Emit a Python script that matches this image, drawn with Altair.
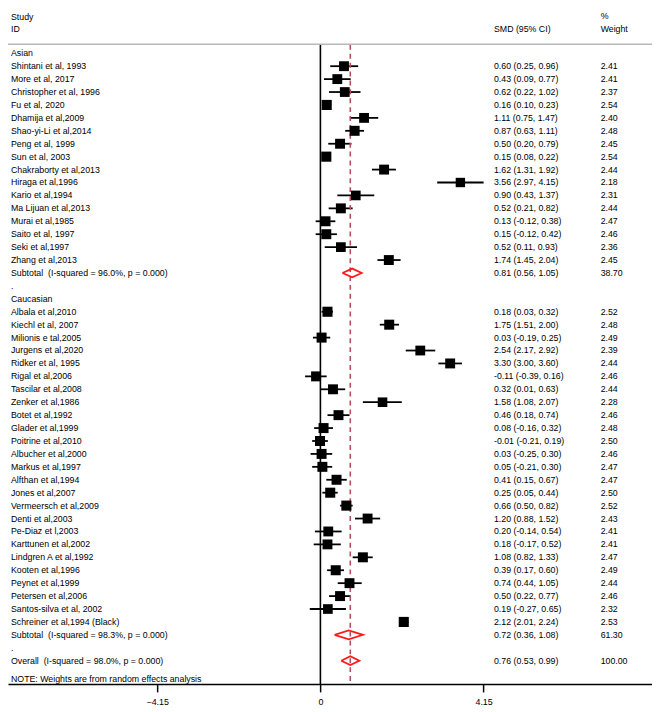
import altair as alt
import pandas as pd

# ---------------- data ----------------
asian_studies = ["Shintani et al, 1993", "More et al, 2017", "Christopher et al, 1996", "Fu et al, 2020",
                 "Dhamija et al,2009", "Shao-yi-Li et al,2014", "Peng et al, 1999", "Sun et al, 2003",
                 "Chakraborty et al,2013", "Hiraga et al,1996", "Kario et al,1994", "Ma Lijuan et al,2013",
                 "Murai et al,1985", "Saito et al, 1997", "Seki et al,1997", "Zhang et al,2013"]
asian_smd = [0.60, 0.43, 0.62, 0.16, 1.11, 0.87, 0.50, 0.15, 1.62, 3.56, 0.90, 0.52, 0.13, 0.15, 0.52, 1.74]
asian_lo = [0.25, 0.09, 0.22, 0.10, 0.75, 0.63, 0.20, 0.08, 1.31, 2.97, 0.43, 0.21, -0.12, -0.12, 0.11, 1.45]
asian_hi = [0.96, 0.77, 1.02, 0.23, 1.47, 1.11, 0.79, 0.22, 1.92, 4.15, 1.37, 0.82, 0.38, 0.42, 0.93, 2.04]
asian_w = [2.41, 2.41, 2.37, 2.54, 2.40, 2.48, 2.45, 2.54, 2.44, 2.18, 2.31, 2.44, 2.47, 2.46, 2.36, 2.45]

cauc_studies = ["Albala et al,2010", "Kiechl et al, 2007", "Milionis e tal,2005", "Jurgens et al,2020",
                "Ridker et al, 1995", "Rigal et al,2006", "Tascilar et al,2008", "Zenker et al,1986",
                "Botet et al,1992", "Glader et al,1999", "Poitrine et al,2010", "Albucher et al,2000",
                "Markus et al,1997", "Alfthan et al,1994", "Jones et al,2007", "Vermeersch et al,2009",
                "Denti et al,2003", "Pe-Diaz et l,2003", "Karttunen et al,2002", "Lindgren A et al,1992",
                "Kooten et al,1996", "Peynet et al,1999", "Petersen et al,2006", "Santos-silva et al, 2002",
                "Schreiner et al,1994 (Black)"]
cauc_smd = [0.18, 1.75, 0.03, 2.54, 3.30, -0.11, 0.32, 1.58, 0.46, 0.08, -0.01, 0.03, 0.05, 0.41, 0.25,
            0.66, 1.20, 0.20, 0.18, 1.08, 0.39, 0.74, 0.50, 0.19, 2.12]
cauc_lo = [0.03, 1.51, -0.19, 2.17, 3.00, -0.39, 0.01, 1.08, 0.18, -0.16, -0.21, -0.25, -0.21, 0.15, 0.05,
           0.50, 0.88, -0.14, -0.17, 0.82, 0.17, 0.44, 0.22, -0.27, 2.01]
cauc_hi = [0.32, 2.00, 0.25, 2.92, 3.60, 0.16, 0.63, 2.07, 0.74, 0.32, 0.19, 0.30, 0.30, 0.67, 0.44,
           0.82, 1.52, 0.54, 0.52, 1.33, 0.60, 1.05, 0.77, 0.65, 2.24]
cauc_w = [2.52, 2.48, 2.49, 2.39, 2.44, 2.46, 2.44, 2.28, 2.46, 2.48, 2.50, 2.46, 2.47, 2.47, 2.50,
          2.52, 2.43, 2.41, 2.41, 2.47, 2.49, 2.44, 2.46, 2.32, 2.53]

pooled_labels = ["Subtotal\u00a0 (I-squared = 96.0%, p = 0.000)",
                 "Subtotal\u00a0 (I-squared = 98.3%, p = 0.000)",
                 "Overall\u00a0 (I-squared = 98.0%, p = 0.000)"]
pooled_smd = [0.81, 0.72, 0.76]
pooled_lo = [0.56, 0.36, 0.53]
pooled_hi = [1.05, 1.08, 0.99]
pooled_w = [38.70, 61.30, 100.00]

group_labels = ["Asian", "Caucasian"]
tick_values = [-4.15, 0, 4.15]
note_text = "NOTE: Weights are from random effects analysis"


def ci_text(m, l, h):
    return f"{m:.2f} ({l:.2f}, {h:.2f})"


# ---------------- build tables ----------------
text_rows, study_rows, pooled_rows = [], [], []
r = 0
groups = [(asian_studies, asian_smd, asian_lo, asian_hi, asian_w),
          (cauc_studies, cauc_smd, cauc_lo, cauc_hi, cauc_w)]
for gi, (names, sm, lo, hi, w) in enumerate(groups):
    text_rows.append(dict(row=r, label=group_labels[gi], ci="", wt=""))
    r += 1
    for n, m, l, h, ww in zip(names, sm, lo, hi, w):
        text_rows.append(dict(row=r, label=n, ci=ci_text(m, l, h), wt=f"{ww:.2f}"))
        study_rows.append(dict(row=r, smd=m, lo=l, hi=h, w=ww))
        r += 1
    text_rows.append(dict(row=r, label=pooled_labels[gi],
                          ci=ci_text(pooled_smd[gi], pooled_lo[gi], pooled_hi[gi]),
                          wt=f"{pooled_w[gi]:.2f}"))
    pooled_rows.append(dict(row=r, smd=pooled_smd[gi], lo=pooled_lo[gi], hi=pooled_hi[gi], key=gi))
    r += 1
    text_rows.append(dict(row=r, label=".", ci="", wt=""))
    r += 1
text_rows.append(dict(row=r, label=pooled_labels[2],
                      ci=ci_text(pooled_smd[2], pooled_lo[2], pooled_hi[2]),
                      wt=f"{pooled_w[2]:.2f}"))
pooled_rows.append(dict(row=r, smd=pooled_smd[2], lo=pooled_lo[2], hi=pooled_hi[2], key=2))

text_df = pd.DataFrame(text_rows)
study_df = pd.DataFrame(study_rows)

half_h = 0.34  # diamond half height in row units
diam = []
for p in pooled_rows:
    pts = [(p["lo"], p["row"]), (p["smd"], p["row"] - half_h), (p["hi"], p["row"]),
           (p["smd"], p["row"] + half_h), (p["lo"], p["row"])]
    for i, (xx, yy) in enumerate(pts):
        diam.append(dict(key=p["key"], o=i, x=xx, y=yy))
diam_df = pd.DataFrame(diam)

overall_df = pd.DataFrame({"smd": [pooled_smd[2]]})
zero_df = pd.DataFrame({"v": [0]})

# ---------------- scales ----------------
W, H = 652, 680
FONT = "Liberation Sans"
FS = 8.9
xscale = alt.Scale(domain=[-7.945, 8.433], nice=False, zero=False)
yscale = alt.Scale(domain=[-3.168, 48.80], reverse=True, nice=False, zero=False)

xaxis = alt.Axis(values=tick_values, title=None, grid=False,
                 labelExpr="datum.value == 0 ? '0' : format(datum.value, '.2f')",
                 domainColor="#000", domainWidth=1.5, tickColor="#000", tickWidth=1.5,
                 tickSize=8, labelFontSize=9, labelPadding=6, labelFont=FONT,
                 labelColor="#000", labelFlush=False)

base_study = alt.Chart(study_df)

ci = base_study.mark_rule(color="#000", strokeWidth=1.8).encode(
    x=alt.X("lo:Q", scale=xscale, axis=xaxis),
    x2="hi:Q",
    y=alt.Y("row:Q", scale=yscale, axis=None),
)

overall_line = alt.Chart(overall_df).mark_rule(color="#b4505c", strokeWidth=1.6,
                                               strokeDash=[5, 4]).encode(
    x=alt.X("smd:Q", scale=xscale),
    y=alt.value(33),
    y2=alt.value(H),
)

zero_line = alt.Chart(zero_df).mark_rule(color="#000", strokeWidth=1.6).encode(
    x=alt.X("v:Q", scale=xscale),
    y=alt.value(33),
    y2=alt.value(H),
)

squares = base_study.mark_square(filled=True, color="#000", opacity=1).encode(
    x=alt.X("smd:Q", scale=xscale),
    y=alt.Y("row:Q", scale=yscale),
    size=alt.Size("w:Q", scale=alt.Scale(domain=[0, 2.54], range=[0, 105]), legend=None),
)

diamonds = alt.Chart(diam_df).mark_line(color="#ff1a1a", strokeWidth=1.8, strokeJoin="miter").encode(
    x=alt.X("x:Q", scale=xscale),
    y=alt.Y("y:Q", scale=yscale),
    detail="key:N",
    order="o:Q",
)

header_line = alt.Chart(zero_df).mark_rule(color="#b8b8b8", strokeWidth=1.5).encode(
    x=alt.value(0), x2=alt.value(W), y=alt.value(32.3),
)

txt_kw = dict(font=FONT, fontSize=FS, color="#000", align="left", baseline="middle")
base_text = alt.Chart(text_df)
labels = base_text.mark_text(**txt_kw).encode(
    x=alt.value(3), y=alt.Y("row:Q", scale=yscale), text="label:N")
cis = base_text.mark_text(**txt_kw).encode(
    x=alt.value(492), y=alt.Y("row:Q", scale=yscale), text="ci:N")
wts = base_text.mark_text(**txt_kw).encode(
    x=alt.value(600), y=alt.Y("row:Q", scale=yscale), text="wt:N")


def head(t, x, y):
    return alt.Chart(zero_df).mark_text(text=t, **txt_kw).encode(x=alt.value(x), y=alt.value(y))


headers = [head("Study", 3, 4.9), head("ID", 3, 16.8), head("SMD (95% CI)", 492, 16.8),
           head("%", 600, 3.9), head("Weight", 600, 16.8), head(note_text, 3, 675.1)]

chart = alt.layer(
    header_line, ci, overall_line, zero_line, squares, diamonds, labels, cis, wts, *headers
).properties(
    width=W, height=H,
    padding={"left": 0, "top": 0, "right": 0, "bottom": 24},
    autosize=alt.AutoSizeParams(type="none")
).configure_view(stroke=None)

chart.save("out.html", embed_options={"renderer": "svg", "actions": False})
